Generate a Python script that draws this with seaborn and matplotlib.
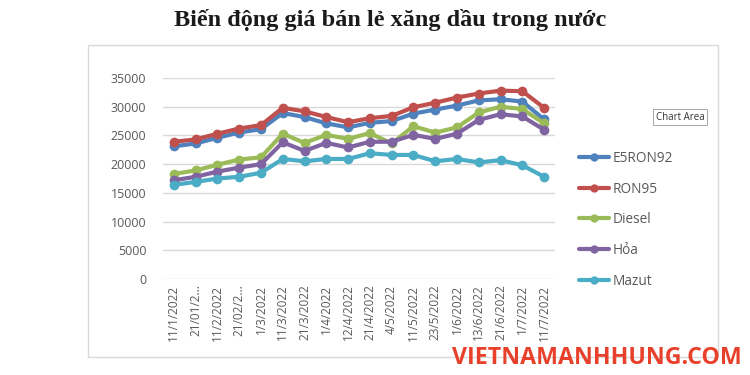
import numpy as np
import pandas as pd
import seaborn as sns
import matplotlib.pyplot as plt
from matplotlib.patches import Rectangle

dates = ["11/1/2022", "21/01/2...", "11/2/2022", "21/02/2...", "1/3/2022", "11/3/2022",
         "21/3/2022", "1/4/2022", "12/4/2022", "21/4/2022", "4/5/2022", "11/5/2022",
         "23/5/2022", "1/6/2022", "13/6/2022", "21/6/2022", "1/7/2022", "11/7/2022"]

e5ron92 = [23100, 23600, 24600, 25500, 26100, 28900, 28200, 27100, 26400,
           27200, 27500, 28800, 29500, 30200, 31100, 31300, 30900, 27800]
ron95 = [23900, 24300, 25300, 26200, 26800, 29800, 29200, 28200, 27300,
         28000, 28400, 29900, 30700, 31600, 32300, 32800, 32700, 29800]
diesel = [18300, 18900, 19900, 20800, 21200, 25300, 23700, 25100, 24400,
          25400, 23600, 26600, 25500, 26400, 29000, 30000, 29600, 27100]
hoa = [17200, 17800, 18700, 19400, 20000, 23800, 22300, 23700, 22900,
       23900, 23900, 25100, 24400, 25300, 27700, 28700, 28300, 26000]
mazut = [16400, 16900, 17500, 17800, 18500, 20900, 20500, 20900, 20900,
         21900, 21600, 21600, 20500, 20900, 20300, 20700, 19800, 17800]

series_names = ["E5RON92", "RON95", "Diesel", "Hỏa", "Mazut"]
colors = ["#4F81BD", "#C0504D", "#9BBB59", "#8064A2", "#4BACC6"]

# long-form table for seaborn
frames = []
for name, vals in zip(series_names, [e5ron92, ron95, diesel, hoa, mazut]):
    frames.append(pd.DataFrame({"pos": np.arange(len(dates)), "date": dates,
                                "price": vals, "series": name}))
df = pd.concat(frames, ignore_index=True)

sns.set_theme(style="white")
plt.rcParams['font.family'] = ['Open Sans', 'DejaVu Sans']

fig = plt.figure(figsize=(7.5, 3.75), dpi=100)
fig.patch.set_facecolor("white")

# chart area border
fig.patches.append(Rectangle((88 / 750, 1 - 357 / 375), (718 - 88) / 750, (357 - 45) / 375,
                             transform=fig.transFigure, fill=False,
                             edgecolor="#D9D9D9", linewidth=1))

ax = fig.add_axes([163 / 750, 1 - 279 / 375, (555 - 163) / 750, (279 - 78) / 375])
sns.lineplot(data=df, x="pos", y="price", hue="series", hue_order=series_names,
             palette=colors, marker="o", markersize=7, markeredgewidth=0,
             linewidth=3, ax=ax, legend=True)

ax.set_ylim(0, 35000)
ax.set_yticks(range(0, 35001, 5000))
ax.set_xlim(-0.5, len(dates) - 0.5)
ax.set_xticks(range(len(dates)))
ax.set_xticklabels(dates, rotation=90, fontsize=8.5, color="#595959")
ax.tick_params(axis="y", labelsize=9, labelcolor="#595959", length=0, pad=12)
ax.tick_params(axis="x", length=0, pad=4)
ax.yaxis.grid(True, color="#D9D9D9", linewidth=1)
ax.set_axisbelow(True)
for s in ax.spines.values():
    s.set_visible(False)
ax.set_xlabel("")
ax.set_ylabel("")

leg = ax.legend(loc="center left", bbox_to_anchor=(1.03, 0.295), frameon=False,
                fontsize=9.8, handlelength=2.2, labelspacing=1.15, handletextpad=0.3,
                labelcolor="#595959")
for h in leg.legend_handles:
    h.set_linewidth(3)
    h.set_markersize(6)

fig.text(390 / 750, 1 - 20 / 375, "Biến động giá bán lẻ xăng dầu trong nước",
         ha="center", va="center", fontsize=17.5, fontweight="bold",
         family=["Liberation Serif", "DejaVu Serif"], color="#1a1a1a")

# tooltip and watermark seen on the original screenshot
fig.text(680 / 750, 1 - 117 / 375, "Chart Area", ha="center", va="center", fontsize=7,
         color="#333333", bbox=dict(boxstyle="square,pad=0.3", fc="white", ec="#999999", lw=0.6))
fig.text(597 / 750, 1 - 358 / 375, "VIETNAMANHHUNG.COM", ha="center", va="center",
         fontsize=16.7, fontweight="bold", color="#E8402A")

fig.savefig("out.png", dpi=100)
